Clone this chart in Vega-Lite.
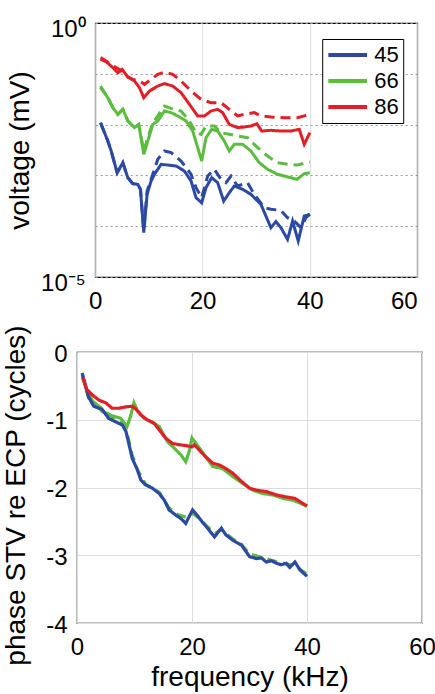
{
  "$schema": "https://vega.github.io/schema/vega-lite/v6.json",
  "padding": {"left": 2, "top": 16, "right": 0, "bottom": 0},
  "background": "white",
  "spacing": 10,
  "center": true,
  "config": {
    "font": "Liberation Sans",
    "view": {"stroke": "black", "strokeWidth": 1.2},
    "axis": {"domain": false, "ticks": false, "labelColor": "black", "titleColor": "black", "titleFontWeight": "normal", "labelFont": "Liberation Sans", "titleFont": "Liberation Sans", "labelFlush": false, "labelOverlap": false}
  },
  "resolve": {"scale": {"color": "independent", "strokeDash": "independent"}, "legend": {"color": "independent", "strokeDash": "independent"}},
  "datasets": {
    "top": [
      {"f":0.99,"v":1.09e-2,"s":"45","d":"solid"},{"f":2.36,"v":4.75e-3,"s":"45","d":"solid"},{"f":2.98,"v":3.02e-3,"s":"45","d":"solid"},{"f":4.09,"v":1.13e-3,"s":"45","d":"solid"},{"f":5.15,"v":1.78e-3,"s":"45","d":"solid"},{"f":6.08,"v":9.0e-4,"s":"45","d":"solid"},{"f":7.01,"v":6.87e-4,"s":"45","d":"solid"},{"f":7.94,"v":6.67e-4,"s":"45","d":"solid"},{"f":8.43,"v":5.32e-4,"s":"45","d":"solid"},{"f":9.05,"v":7.46e-5,"s":"45","d":"solid"},{"f":9.67,"v":4.24e-4,"s":"45","d":"solid"},{"f":10.42,"v":7.76e-4,"s":"45","d":"solid"},{"f":11.04,"v":1.05e-3,"s":"45","d":"solid"},{"f":12.28,"v":1.65e-3,"s":"45","d":"solid"},{"f":13.52,"v":1.60e-3,"s":"45","d":"solid"},{"f":15.07,"v":1.53e-3,"s":"45","d":"solid"},{"f":16.62,"v":1.22e-3,"s":"45","d":"solid"},{"f":17.86,"v":7.76e-4,"s":"45","d":"solid"},{"f":18.79,"v":3.65e-4,"s":"45","d":"solid"},{"f":19.84,"v":2.90e-4,"s":"45","d":"solid"},{"f":20.65,"v":5.74e-4,"s":"45","d":"solid"},{"f":21.71,"v":9.0e-4,"s":"45","d":"solid"},{"f":22.82,"v":7.19e-4,"s":"45","d":"solid"},{"f":23.94,"v":3.13e-4,"s":"45","d":"solid"},{"f":24.99,"v":4.57e-4,"s":"45","d":"solid"},{"f":25.92,"v":6.18e-4,"s":"45","d":"solid"},{"f":27.47,"v":5.32e-4,"s":"45","d":"solid"},{"f":29.02,"v":4.24e-4,"s":"45","d":"solid"},{"f":30.88,"v":2.69e-4,"s":"45","d":"solid"},{"f":32.74,"v":9.35e-5,"s":"45","d":"solid"},{"f":33.67,"v":1.23e-4,"s":"45","d":"solid"},{"f":34.6,"v":9.35e-5,"s":"45","d":"solid"},{"f":35.84,"v":5.51e-5,"s":"45","d":"solid"},{"f":36.78,"v":1.26e-4,"s":"45","d":"solid"},{"f":37.83,"v":5.12e-5,"s":"45","d":"solid"},{"f":38.95,"v":1.59e-4,"s":"45","d":"solid"},{"f":40,"v":1.71e-4,"s":"45","d":"solid"},
      {"f":0.99,"v":1.09e-2,"s":"45","d":"dashed"},{"f":2.36,"v":4.75e-3,"s":"45","d":"dashed"},{"f":2.98,"v":3.02e-3,"s":"45","d":"dashed"},{"f":4.09,"v":1.13e-3,"s":"45","d":"dashed"},{"f":5.15,"v":1.78e-3,"s":"45","d":"dashed"},{"f":6.08,"v":9.0e-4,"s":"45","d":"dashed"},{"f":7.01,"v":6.87e-4,"s":"45","d":"dashed"},{"f":7.94,"v":6.67e-4,"s":"45","d":"dashed"},{"f":8.43,"v":5.32e-4,"s":"45","d":"dashed"},{"f":9.05,"v":8.05e-5,"s":"45","d":"dashed"},{"f":9.67,"v":4.93e-4,"s":"45","d":"dashed"},{"f":10.73,"v":1.05e-3,"s":"45","d":"dashed"},{"f":11.66,"v":2.07e-3,"s":"45","d":"dashed"},{"f":12.9,"v":3.02e-3,"s":"45","d":"dashed"},{"f":14.14,"v":2.81e-3,"s":"45","d":"dashed"},{"f":16.0,"v":1.92e-3,"s":"45","d":"dashed"},{"f":17.86,"v":1.05e-3,"s":"45","d":"dashed"},{"f":18.79,"v":5.74e-4,"s":"45","d":"dashed"},{"f":19.84,"v":3.65e-4,"s":"45","d":"dashed"},{"f":20.96,"v":9.73e-4,"s":"45","d":"dashed"},{"f":22.2,"v":1.32e-3,"s":"45","d":"dashed"},{"f":23.44,"v":8.38e-4,"s":"45","d":"dashed"},{"f":24.37,"v":7.19e-4,"s":"45","d":"dashed"},{"f":25.3,"v":9.73e-4,"s":"45","d":"dashed"},{"f":26.54,"v":6.18e-4,"s":"45","d":"dashed"},{"f":28.4,"v":7.19e-4,"s":"45","d":"dashed"},{"f":29.64,"v":4.24e-4,"s":"45","d":"dashed"},{"f":31.5,"v":2.32e-4,"s":"45","d":"dashed"},{"f":32.74,"v":2.15e-4,"s":"45","d":"dashed"},{"f":34.6,"v":2.05e-4,"s":"45","d":"dashed"},{"f":35.84,"v":1.47e-4,"s":"45","d":"dashed"},{"f":37.09,"v":1.26e-4,"s":"45","d":"dashed"},{"f":38.33,"v":9.35e-5,"s":"45","d":"dashed"},{"f":39.26,"v":1.47e-4,"s":"45","d":"dashed"},{"f":40,"v":1.71e-4,"s":"45","d":"dashed"},
      {"f":0.99,"v":5.33e-2,"s":"66","d":"solid"},{"f":2.36,"v":3.39e-2,"s":"66","d":"solid"},{"f":3.29,"v":2.15e-2,"s":"66","d":"solid"},{"f":4.22,"v":1.59e-2,"s":"66","d":"solid"},{"f":5.15,"v":2.0e-2,"s":"66","d":"solid"},{"f":6.08,"v":1.18e-2,"s":"66","d":"solid"},{"f":7.32,"v":8.71e-3,"s":"66","d":"solid"},{"f":8.12,"v":1.01e-2,"s":"66","d":"solid"},{"f":9.05,"v":2.60e-3,"s":"66","d":"solid"},{"f":9.8,"v":4.75e-3,"s":"66","d":"solid"},{"f":10.73,"v":1.01e-2,"s":"66","d":"solid"},{"f":11.66,"v":1.18e-2,"s":"66","d":"solid"},{"f":12.9,"v":1.85e-2,"s":"66","d":"solid"},{"f":14.14,"v":1.72e-2,"s":"66","d":"solid"},{"f":15.38,"v":1.48e-2,"s":"66","d":"solid"},{"f":16.93,"v":1.18e-2,"s":"66","d":"solid"},{"f":18.17,"v":7.48e-3,"s":"66","d":"solid"},{"f":19.1,"v":3.52e-3,"s":"66","d":"solid"},{"f":19.84,"v":1.92e-3,"s":"66","d":"solid"},{"f":20.65,"v":5.53e-3,"s":"66","d":"solid"},{"f":21.71,"v":8.07e-3,"s":"66","d":"solid"},{"f":22.82,"v":7.48e-3,"s":"66","d":"solid"},{"f":24.06,"v":4.75e-3,"s":"66","d":"solid"},{"f":24.99,"v":3.02e-3,"s":"66","d":"solid"},{"f":25.92,"v":4.09e-3,"s":"66","d":"solid"},{"f":27.47,"v":4.09e-3,"s":"66","d":"solid"},{"f":29.02,"v":3.02e-3,"s":"66","d":"solid"},{"f":30.57,"v":1.78e-3,"s":"66","d":"solid"},{"f":32.12,"v":1.32e-3,"s":"66","d":"solid"},{"f":33.98,"v":1.05e-3,"s":"66","d":"solid"},{"f":35.84,"v":9.31e-4,"s":"66","d":"solid"},{"f":37.58,"v":8.38e-4,"s":"66","d":"solid"},{"f":38.95,"v":1.08e-3,"s":"66","d":"solid"},{"f":40,"v":1.13e-3,"s":"66","d":"solid"},
      {"f":0.99,"v":5.75e-2,"s":"66","d":"dashed"},{"f":2.36,"v":3.39e-2,"s":"66","d":"dashed"},{"f":3.29,"v":2.15e-2,"s":"66","d":"dashed"},{"f":4.22,"v":1.59e-2,"s":"66","d":"dashed"},{"f":5.15,"v":2.0e-2,"s":"66","d":"dashed"},{"f":6.08,"v":1.18e-2,"s":"66","d":"dashed"},{"f":7.32,"v":8.71e-3,"s":"66","d":"dashed"},{"f":8.12,"v":1.01e-2,"s":"66","d":"dashed"},{"f":9.05,"v":3.02e-3,"s":"66","d":"dashed"},{"f":9.8,"v":5.53e-3,"s":"66","d":"dashed"},{"f":10.73,"v":1.09e-2,"s":"66","d":"dashed"},{"f":11.66,"v":1.48e-2,"s":"66","d":"dashed"},{"f":12.9,"v":2.32e-2,"s":"66","d":"dashed"},{"f":14.14,"v":2.09e-2,"s":"66","d":"dashed"},{"f":16.0,"v":1.85e-2,"s":"66","d":"dashed"},{"f":17.55,"v":1.18e-2,"s":"66","d":"dashed"},{"f":18.79,"v":6.93e-3,"s":"66","d":"dashed"},{"f":19.72,"v":6.43e-3,"s":"66","d":"dashed"},{"f":20.65,"v":9.38e-3,"s":"66","d":"dashed"},{"f":22.2,"v":9.38e-3,"s":"66","d":"dashed"},{"f":23.44,"v":6.93e-3,"s":"66","d":"dashed"},{"f":24.99,"v":6.43e-3,"s":"66","d":"dashed"},{"f":26.54,"v":5.97e-3,"s":"66","d":"dashed"},{"f":28.4,"v":5.53e-3,"s":"66","d":"dashed"},{"f":30.26,"v":3.52e-3,"s":"66","d":"dashed"},{"f":32.12,"v":2.41e-3,"s":"66","d":"dashed"},{"f":33.98,"v":1.78e-3,"s":"66","d":"dashed"},{"f":35.84,"v":1.65e-3,"s":"66","d":"dashed"},{"f":37.71,"v":1.60e-3,"s":"66","d":"dashed"},{"f":40,"v":1.84e-3,"s":"66","d":"dashed"},
      {"f":0.99,"v":1.93e-1,"s":"86","d":"solid"},{"f":2.05,"v":1.73e-1,"s":"86","d":"solid"},{"f":3.29,"v":1.32e-1,"s":"86","d":"solid"},{"f":4.22,"v":1.05e-1,"s":"86","d":"solid"},{"f":5.02,"v":1.22e-1,"s":"86","d":"solid"},{"f":6.08,"v":8.65e-2,"s":"86","d":"solid"},{"f":7.32,"v":7.21e-2,"s":"86","d":"solid"},{"f":8.25,"v":5.33e-2,"s":"86","d":"solid"},{"f":9.05,"v":3.39e-2,"s":"86","d":"solid"},{"f":10.11,"v":4.58e-2,"s":"86","d":"solid"},{"f":11.66,"v":5.75e-2,"s":"86","d":"solid"},{"f":12.9,"v":6.40e-2,"s":"86","d":"solid"},{"f":14.45,"v":5.75e-2,"s":"86","d":"solid"},{"f":16.0,"v":4.26e-2,"s":"86","d":"solid"},{"f":17.55,"v":2.51e-2,"s":"86","d":"solid"},{"f":19.1,"v":1.48e-2,"s":"86","d":"solid"},{"f":20.34,"v":1.48e-2,"s":"86","d":"solid"},{"f":21.58,"v":1.85e-2,"s":"86","d":"solid"},{"f":22.82,"v":2.0e-2,"s":"86","d":"solid"},{"f":23.75,"v":1.72e-2,"s":"86","d":"solid"},{"f":24.99,"v":1.01e-2,"s":"86","d":"solid"},{"f":26.54,"v":8.71e-3,"s":"86","d":"solid"},{"f":27.78,"v":8.97e-3,"s":"86","d":"solid"},{"f":29.02,"v":9.38e-3,"s":"86","d":"solid"},{"f":30.14,"v":1.04e-2,"s":"86","d":"solid"},{"f":31.01,"v":7.48e-3,"s":"86","d":"solid"},{"f":32.74,"v":7.71e-3,"s":"86","d":"solid"},{"f":34.6,"v":7.48e-3,"s":"86","d":"solid"},{"f":36.47,"v":7.48e-3,"s":"86","d":"solid"},{"f":38.02,"v":8.07e-3,"s":"86","d":"solid"},{"f":38.95,"v":4.09e-3,"s":"86","d":"solid"},{"f":40,"v":6.93e-3,"s":"86","d":"solid"},
      {"f":0.99,"v":2.08e-1,"s":"86","d":"dashed"},{"f":2.05,"v":1.79e-1,"s":"86","d":"dashed"},{"f":3.29,"v":1.43e-1,"s":"86","d":"dashed"},{"f":4.53,"v":1.22e-1,"s":"86","d":"dashed"},{"f":5.77,"v":9.06e-2,"s":"86","d":"dashed"},{"f":7.01,"v":7.78e-2,"s":"86","d":"dashed"},{"f":8.25,"v":7.21e-2,"s":"86","d":"dashed"},{"f":9.18,"v":6.21e-2,"s":"86","d":"dashed"},{"f":10.42,"v":7.78e-2,"s":"86","d":"dashed"},{"f":11.66,"v":9.77e-2,"s":"86","d":"dashed"},{"f":12.9,"v":1.08e-1,"s":"86","d":"dashed"},{"f":14.45,"v":9.77e-2,"s":"86","d":"dashed"},{"f":16.0,"v":7.21e-2,"s":"86","d":"dashed"},{"f":17.86,"v":4.58e-2,"s":"86","d":"dashed"},{"f":19.72,"v":3.14e-2,"s":"86","d":"dashed"},{"f":21.58,"v":2.70e-2,"s":"86","d":"dashed"},{"f":23.44,"v":2.70e-2,"s":"86","d":"dashed"},{"f":24.99,"v":2.0e-2,"s":"86","d":"dashed"},{"f":26.54,"v":1.48e-2,"s":"86","d":"dashed"},{"f":27.78,"v":1.59e-2,"s":"86","d":"dashed"},{"f":29.64,"v":1.72e-2,"s":"86","d":"dashed"},{"f":30.88,"v":1.48e-2,"s":"86","d":"dashed"},{"f":32.74,"v":1.41e-2,"s":"86","d":"dashed"},{"f":35.22,"v":1.37e-2,"s":"86","d":"dashed"},{"f":37.71,"v":1.37e-2,"s":"86","d":"dashed"},{"f":40,"v":1.59e-2,"s":"86","d":"dashed"}
    ],
    "bot": [
      {"f":0.9,"p":-0.33,"s":"66","d":"dashed"},{"f":2.0,"p":-0.68,"s":"66","d":"dashed"},{"f":4.4,"p":-0.84,"s":"66","d":"dashed"},{"f":6.7,"p":-1.0,"s":"66","d":"dashed"},{"f":7.9,"p":-1.06,"s":"66","d":"dashed"},{"f":8.7,"p":-1.2,"s":"66","d":"dashed"},{"f":9.6,"p":-1.52,"s":"66","d":"dashed"},{"f":10.5,"p":-1.74,"s":"66","d":"dashed"},{"f":11.9,"p":-1.95,"s":"66","d":"dashed"},{"f":14.3,"p":-2.07,"s":"66","d":"dashed"},{"f":16.0,"p":-2.30,"s":"66","d":"dashed"},{"f":17.5,"p":-2.40,"s":"66","d":"dashed"},{"f":19.0,"p":-2.44,"s":"66","d":"dashed"},{"f":20.1,"p":-2.38,"s":"66","d":"dashed"},{"f":21.0,"p":-2.44,"s":"66","d":"dashed"},{"f":22.7,"p":-2.58,"s":"66","d":"dashed"},{"f":24.0,"p":-2.68,"s":"66","d":"dashed"},{"f":25.1,"p":-2.62,"s":"66","d":"dashed"},{"f":27.1,"p":-2.76,"s":"66","d":"dashed"},{"f":28.6,"p":-2.84,"s":"66","d":"dashed"},{"f":30.0,"p":-2.98,"s":"66","d":"dashed"},{"f":32.0,"p":-3.03,"s":"66","d":"dashed"},{"f":34.0,"p":-3.08,"s":"66","d":"dashed"},{"f":36.0,"p":-3.12,"s":"66","d":"dashed"},{"f":38.0,"p":-3.16,"s":"66","d":"dashed"},{"f":40.0,"p":-3.28,"s":"66","d":"dashed"},
      {"f":0.9,"p":-0.36,"s":"66","d":"solid"},{"f":1.7,"p":-0.56,"s":"66","d":"solid"},{"f":2.6,"p":-0.71,"s":"66","d":"solid"},{"f":4.4,"p":-0.88,"s":"66","d":"solid"},{"f":6.1,"p":-0.94,"s":"66","d":"solid"},{"f":7.6,"p":-0.98,"s":"66","d":"solid"},{"f":8.7,"p":-1.10,"s":"66","d":"solid"},{"f":9.3,"p":-0.95,"s":"66","d":"solid"},{"f":9.9,"p":-0.75,"s":"66","d":"solid"},{"f":10.5,"p":-0.86,"s":"66","d":"solid"},{"f":11.7,"p":-0.98,"s":"66","d":"solid"},{"f":12.8,"p":-1.03,"s":"66","d":"solid"},{"f":14.3,"p":-1.10,"s":"66","d":"solid"},{"f":15.7,"p":-1.32,"s":"66","d":"solid"},{"f":16.9,"p":-1.42,"s":"66","d":"solid"},{"f":18.1,"p":-1.52,"s":"66","d":"solid"},{"f":18.9,"p":-1.62,"s":"66","d":"solid"},{"f":19.5,"p":-1.47,"s":"66","d":"solid"},{"f":20.0,"p":-1.27,"s":"66","d":"solid"},{"f":20.7,"p":-1.35,"s":"66","d":"solid"},{"f":21.9,"p":-1.49,"s":"66","d":"solid"},{"f":23.6,"p":-1.69,"s":"66","d":"solid"},{"f":25.3,"p":-1.72,"s":"66","d":"solid"},{"f":27.1,"p":-1.84,"s":"66","d":"solid"},{"f":28.8,"p":-1.94,"s":"66","d":"solid"},{"f":30.6,"p":-2.04,"s":"66","d":"solid"},{"f":32.3,"p":-2.09,"s":"66","d":"solid"},{"f":34.1,"p":-2.11,"s":"66","d":"solid"},{"f":35.8,"p":-2.16,"s":"66","d":"solid"},{"f":37.6,"p":-2.19,"s":"66","d":"solid"},{"f":38.8,"p":-2.23,"s":"66","d":"solid"},{"f":40,"p":-2.28,"s":"66","d":"solid"},
      {"f":0.9,"p":-0.31,"s":"45","d":"solid"},{"f":1.5,"p":-0.51,"s":"45","d":"solid"},{"f":2.0,"p":-0.66,"s":"45","d":"solid"},{"f":2.9,"p":-0.80,"s":"45","d":"solid"},{"f":4.4,"p":-0.85,"s":"45","d":"solid"},{"f":5.5,"p":-0.98,"s":"45","d":"solid"},{"f":6.7,"p":-1.03,"s":"45","d":"solid"},{"f":7.9,"p":-1.08,"s":"45","d":"solid"},{"f":8.5,"p":-1.17,"s":"45","d":"solid"},{"f":9.0,"p":-1.35,"s":"45","d":"solid"},{"f":9.6,"p":-1.57,"s":"45","d":"solid"},{"f":10.5,"p":-1.74,"s":"45","d":"solid"},{"f":11.1,"p":-1.89,"s":"45","d":"solid"},{"f":11.9,"p":-1.96,"s":"45","d":"solid"},{"f":13.1,"p":-2.01,"s":"45","d":"solid"},{"f":14.3,"p":-2.09,"s":"45","d":"solid"},{"f":15.2,"p":-2.19,"s":"45","d":"solid"},{"f":16.0,"p":-2.33,"s":"45","d":"solid"},{"f":17.2,"p":-2.41,"s":"45","d":"solid"},{"f":18.1,"p":-2.46,"s":"45","d":"solid"},{"f":18.9,"p":-2.53,"s":"45","d":"solid"},{"f":19.5,"p":-2.43,"s":"45","d":"solid"},{"f":20.1,"p":-2.33,"s":"45","d":"solid"},{"f":20.9,"p":-2.41,"s":"45","d":"solid"},{"f":21.8,"p":-2.51,"s":"45","d":"solid"},{"f":22.7,"p":-2.60,"s":"45","d":"solid"},{"f":23.9,"p":-2.73,"s":"45","d":"solid"},{"f":25.1,"p":-2.60,"s":"45","d":"solid"},{"f":25.9,"p":-2.70,"s":"45","d":"solid"},{"f":27.1,"p":-2.78,"s":"45","d":"solid"},{"f":28.6,"p":-2.85,"s":"45","d":"solid"},{"f":30.0,"p":-3.02,"s":"45","d":"solid"},{"f":31.2,"p":-3.05,"s":"45","d":"solid"},{"f":32.1,"p":-3.04,"s":"45","d":"solid"},{"f":32.9,"p":-3.10,"s":"45","d":"solid"},{"f":33.8,"p":-3.08,"s":"45","d":"solid"},{"f":34.7,"p":-3.12,"s":"45","d":"solid"},{"f":35.5,"p":-3.14,"s":"45","d":"solid"},{"f":36.4,"p":-3.12,"s":"45","d":"solid"},{"f":37.0,"p":-3.18,"s":"45","d":"solid"},{"f":37.9,"p":-3.10,"s":"45","d":"solid"},{"f":38.8,"p":-3.22,"s":"45","d":"solid"},{"f":40.0,"p":-3.31,"s":"45","d":"solid"},
      {"f":1.0,"p":-0.38,"s":"86","d":"solid"},{"f":1.7,"p":-0.55,"s":"86","d":"solid"},{"f":2.6,"p":-0.63,"s":"86","d":"solid"},{"f":3.8,"p":-0.71,"s":"86","d":"solid"},{"f":5.0,"p":-0.75,"s":"86","d":"solid"},{"f":6.1,"p":-0.83,"s":"86","d":"solid"},{"f":7.3,"p":-0.83,"s":"86","d":"solid"},{"f":8.5,"p":-0.81,"s":"86","d":"solid"},{"f":9.6,"p":-0.80,"s":"86","d":"solid"},{"f":10.2,"p":-0.84,"s":"86","d":"solid"},{"f":11.1,"p":-0.93,"s":"86","d":"solid"},{"f":12.2,"p":-1.0,"s":"86","d":"solid"},{"f":13.4,"p":-1.05,"s":"86","d":"solid"},{"f":14.3,"p":-1.15,"s":"86","d":"solid"},{"f":15.4,"p":-1.27,"s":"86","d":"solid"},{"f":16.6,"p":-1.35,"s":"86","d":"solid"},{"f":17.8,"p":-1.37,"s":"86","d":"solid"},{"f":18.9,"p":-1.38,"s":"86","d":"solid"},{"f":20.0,"p":-1.40,"s":"86","d":"solid"},{"f":20.4,"p":-1.37,"s":"86","d":"solid"},{"f":21.3,"p":-1.45,"s":"86","d":"solid"},{"f":22.4,"p":-1.55,"s":"86","d":"solid"},{"f":23.6,"p":-1.64,"s":"86","d":"solid"},{"f":24.8,"p":-1.67,"s":"86","d":"solid"},{"f":25.9,"p":-1.72,"s":"86","d":"solid"},{"f":27.1,"p":-1.79,"s":"86","d":"solid"},{"f":28.6,"p":-1.91,"s":"86","d":"solid"},{"f":30.0,"p":-2.01,"s":"86","d":"solid"},{"f":31.2,"p":-2.04,"s":"86","d":"solid"},{"f":32.9,"p":-2.06,"s":"86","d":"solid"},{"f":34.7,"p":-2.11,"s":"86","d":"solid"},{"f":36.4,"p":-2.14,"s":"86","d":"solid"},{"f":37.9,"p":-2.16,"s":"86","d":"solid"},{"f":38.8,"p":-2.21,"s":"86","d":"solid"},{"f":40,"p":-2.27,"s":"86","d":"solid"}
    ]
  },
  "vconcat": [
    {
      "width": 322,
      "height": 254,
      "data": {"name": "top"},
      "mark": {"type": "line", "strokeWidth": 3, "clip": true},
      "encoding": {
        "x": {"field": "f", "type": "quantitative", "scale": {"domain": [0, 60]},
          "axis": {"values": [0, 20, 40, 60], "title": null, "labelFontSize": 24, "labelPadding": 12, "labelAlign": {"expr": "datum.value == 60 ? 'right' : 'center'"}, "grid": true, "gridColor": "#dddddd"}},
        "y": {"field": "v", "type": "quantitative", "scale": {"type": "log", "domain": [0.00001, 1]},
          "axis": {"values": [0.00001, 0.0001, 0.001, 0.01, 0.1, 1], "labelExpr": "datum.value > 0.5 ? '10⁰' : (datum.value < 0.00005 ? '10⁻⁵' : '')", "title": "voltage (mV)", "titleFontSize": 28, "titlePadding": 6, "labelFontSize": 24, "labelPadding": 10, "labelOffset": 6, "grid": true, "gridColor": "#999999", "gridDash": [2, 3]}},
        "color": {"field": "s", "type": "nominal", "scale": {"domain": ["45", "66", "86"], "range": ["#2c49a3", "#5bbd3f", "#e41e26"]},
          "legend": {"orient": "none", "legendX": 227, "legendY": 16, "title": null, "symbolType": "stroke", "symbolSize": 1500, "symbolStrokeWidth": 4, "labelFontSize": 22, "labelFont": "Liberation Sans", "labelColor": "black", "labelOffset": 5, "strokeColor": "black", "fillColor": "white", "padding": 4, "clipHeight": 24, "rowPadding": 2}},
        "strokeDash": {"field": "d", "type": "nominal", "scale": {"domain": ["solid", "dashed"], "range": [[1, 0], [10, 6]]}, "legend": null}
      }
    },
    {
      "width": 345,
      "height": 271,
      "data": {"name": "bot"},
      "mark": {"type": "line", "strokeWidth": 3.2, "clip": true},
      "encoding": {
        "x": {"field": "f", "type": "quantitative", "scale": {"domain": [0, 60]},
          "axis": {"values": [0, 20, 40, 60], "title": "frequency (kHz)", "titleFontSize": 28, "titlePadding": 4, "labelFontSize": 24, "labelPadding": 12, "grid": true, "gridColor": "#dddddd"}},
        "y": {"field": "p", "type": "quantitative", "scale": {"domain": [-4, 0]},
          "axis": {"values": [-4, -3, -2, -1, 0], "labelExpr": "datum.value == 0 ? '0' : '-' + abs(datum.value)", "title": "phase STV re ECP (cycles)", "titleFontSize": 28, "titlePadding": 15, "titleY": 143, "labelFontSize": 24, "labelPadding": 10, "labelOffset": 2, "grid": true, "gridColor": "#dddddd"}},
        "color": {"field": "s", "type": "nominal", "scale": {"domain": ["45", "66", "86"], "range": ["#2c49a3", "#5bbd3f", "#e41e26"]}, "legend": null},
        "strokeDash": {"field": "d", "type": "nominal", "scale": {"domain": ["solid", "dashed"], "range": [[1, 0], [10, 6]]}, "legend": null}
      }
    }
  ]
}
